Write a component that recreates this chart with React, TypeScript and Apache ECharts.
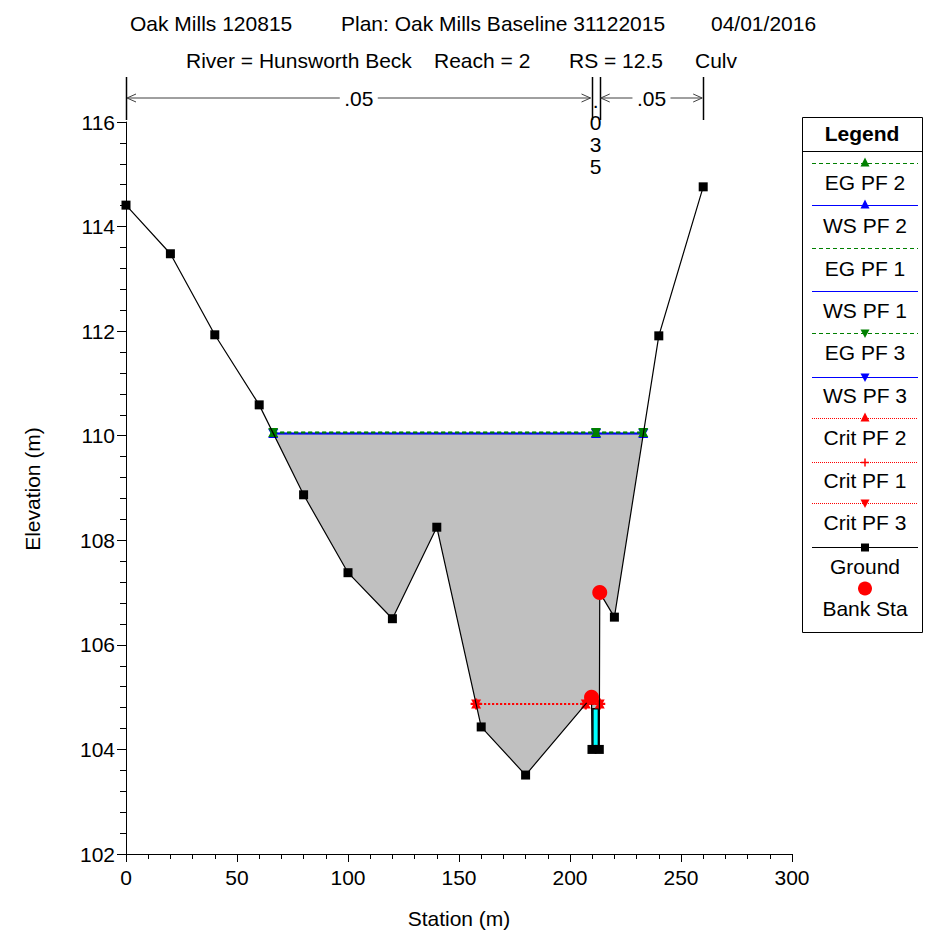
import React, { useEffect, useRef } from "react";
import * as echarts from "echarts";

// ---------- data ----------
const GROUND_STATION = [0, 20, 40, 60, 80, 100, 120, 140, 160, 180, 209.7, 209.9, 213.2, 213.4, 220, 240, 260];
const GROUND_ELEV = [114.41, 113.48, 111.93, 110.59, 108.87, 107.38, 106.5, 108.25, 104.43, 103.51, 105.0, 104.0, 104.0, 107.0, 106.53, 111.91, 114.76];

const WS_STATION = [66.3, 211.7, 233.0];
const WS_PF1 = [110.04, 110.04, 110.04];
const WS_PF2 = [110.04, 110.04, 110.04];
const WS_PF3 = [110.04, 110.04, 110.04];
const EG_PF1 = [110.06, 110.06, 110.06];
const EG_PF2 = [110.06, 110.06, 110.06];
const EG_PF3 = [110.06, 110.06, 110.06];

const CRIT_STATION = [157.7, 207.1, 213.4];
const CRIT_PF1 = [104.87, 104.87, 104.87];
const CRIT_PF2 = [104.87, 104.87, 104.87];
const CRIT_PF3 = [104.87, 104.87, 104.87];

const BANK_STATION = [209.7, 213.4];
const BANK_ELEV = [105.0, 107.0];

const CULVERT_STATION = [210.3, 212.8];
const CULVERT_ELEV = [104.0, 104.78];

const N_STATIONS = [0, 209.7, 213.4, 260];
const N_VALUES = [".05", ".035", ".05"];

const X_MIN = 0, X_MAX = 300, X_STEP = 50;
const Y_MIN = 102, Y_MAX = 116, Y_STEP = 2;

const TITLE_1 = ["Oak Mills 120815", "Plan: Oak Mills Baseline 31122015", "04/01/2016"];
const TITLE_2 = ["River = Hunsworth Beck", "Reach = 2", "RS = 12.5", "Culv"];

const FONT = '"Liberation Sans", Arial, Helvetica, sans-serif';
const GREEN = "#008000";
const BLUE = "#0000ff";
const RED = "#ff0000";

const TRI_DOWN = "path://M0,0L10,0L5,10Z";
const PLUS = "path://M4,0H6V4H10V6H6V10H4V6H0V4H4Z";

const zip = (xs: number[], ys: number[]) => xs.map((x, i) => [x, ys[i]]);

export default function App() {
  const ref = useRef<HTMLDivElement>(null);
  useEffect(() => {
    if (!ref.current) return;
    const chart = echarts.init(ref.current, undefined, { renderer: "svg" });

    const wsL = WS_STATION[0];
    const wsR = WS_STATION[WS_STATION.length - 1];
    const fillPts: number[][] = [[wsL, WS_PF1[0]]];
    GROUND_STATION.forEach((s, i) => {
      if (s > wsL && s < wsR) fillPts.push([s, GROUND_ELEV[i]]);
    });
    fillPts.push([wsR, WS_PF1[WS_PF1.length - 1]]);

    const culvertPts = [
      [CULVERT_STATION[0], CULVERT_ELEV[0]],
      [CULVERT_STATION[1], CULVERT_ELEV[0]],
      [CULVERT_STATION[1], CULVERT_ELEV[1]],
      [CULVERT_STATION[0], CULVERT_ELEV[1]],
    ];

    const polySeries = (pts: number[][], color: string, z: number, stroke = "none", lw = 0) => ({
      type: "custom",
      z,
      silent: true,
      clip: true,
      data: [[pts[0][0], pts[0][1]]],
      renderItem: (_p: any, api: any) => ({
        type: "polygon",
        shape: { points: pts.map((p) => api.coord(p)) },
        style: { fill: color, stroke, lineWidth: lw },
      }),
    });

    const lineSeries = (name: string, xs: number[], ys: number[], color: string, type: any, symbol: string | null, z: number, width = 1, size: any = [10, 9]) => ({
      name,
      type: "line",
      z,
      data: zip(xs, ys),
      showSymbol: !!symbol,
      symbol: symbol || "none",
      symbolSize: size,
      itemStyle: { color, opacity: 1 },
      lineStyle: { color, width, type },
      silent: true,
    });

    const axisCommon = {
      axisLine: { show: true, lineStyle: { color: "#000", width: 1 } },
      splitLine: { show: false },
      minorSplitLine: { show: false },
      axisLabel: { color: "#000", fontSize: 21, fontFamily: FONT },
    };

    chart.setOption({
      animation: false,
      backgroundColor: "#ffffff",
      grid: { left: 126, right: 145, top: 122, bottom: 82 },
      xAxis: {
        type: "value",
        min: X_MIN,
        max: X_MAX,
        interval: X_STEP,
        ...axisCommon,
        axisTick: { show: true, length: 8, lineStyle: { color: "#000" } },
        minorTick: { show: true, splitNumber: 5, length: 5, lineStyle: { color: "#000" } },
        axisLabel: { ...axisCommon.axisLabel, margin: 13 },
      },
      yAxis: {
        type: "value",
        min: Y_MIN,
        max: Y_MAX,
        interval: Y_STEP,
        ...axisCommon,
        axisTick: { show: true, length: 9, lineStyle: { color: "#000" } },
        minorTick: { show: true, splitNumber: 5, length: 6, lineStyle: { color: "#000" } },
        axisLabel: { ...axisCommon.axisLabel, margin: 11 },
      },
      series: [
        polySeries(fillPts, "#c0c0c0", 1),
        polySeries(culvertPts, "#00ffff", 2, "#000", 1.5),
        lineSeries("WS PF 1", WS_STATION, WS_PF1, BLUE, "solid", null, 4, 1.5),
        lineSeries("WS PF 2", WS_STATION, WS_PF2, BLUE, "solid", "triangle", 4, 1.5),
        lineSeries("WS PF 3", WS_STATION, WS_PF3, BLUE, "solid", TRI_DOWN, 4, 1.5),
        lineSeries("EG PF 1", WS_STATION, EG_PF1, GREEN, [4, 3], null, 5, 1.5),
        lineSeries("EG PF 2", WS_STATION, EG_PF2, GREEN, [4, 3], "triangle", 5, 1.5),
        lineSeries("EG PF 3", WS_STATION, EG_PF3, GREEN, [4, 3], TRI_DOWN, 5, 1.5),
        lineSeries("Crit PF 2", CRIT_STATION, CRIT_PF2, RED, [2, 2], "triangle", 6, 1.5),
        lineSeries("Crit PF 1", CRIT_STATION, CRIT_PF1, RED, [2, 2], PLUS, 6, 1.5, [11, 11]),
        lineSeries("Crit PF 3", CRIT_STATION, CRIT_PF3, RED, [2, 2], TRI_DOWN, 6, 1.5),
        {
          name: "Ground",
          type: "line",
          z: 7,
          data: zip(GROUND_STATION, GROUND_ELEV),
          symbol: "rect",
          symbolSize: 9,
          itemStyle: { color: "#000", opacity: 1 },
          lineStyle: { color: "#000", width: 1.2 },
          silent: true,
        },
        {
          name: "Bank Sta",
          type: "scatter",
          z: 9,
          data: zip(BANK_STATION, BANK_ELEV),
          symbol: "circle",
          symbolSize: 15,
          itemStyle: { color: RED, opacity: 1, borderWidth: 0 },
          silent: true,
        },
      ],
    });

    const px = (s: number) => chart.convertToPixel({ gridIndex: 0 }, [s, Y_MIN])[0] as number;
    const graphics: any[] = [];
    const txt = (text: string, x: number, y: number, extra: any = {}) => ({
      type: "text",
      x,
      y,
      silent: true,
      style: { text, fill: "#000", font: `21px ${FONT}`, textAlign: "left", textVerticalAlign: "middle", verticalAlign: "middle", ...extra },
    });

    // titles
    const t1x = [130, 341, 711];
    TITLE_1.forEach((t, i) => graphics.push(txt(t, t1x[i], 23)));
    const t2x = [186, 434, 569, 695];
    TITLE_2.forEach((t, i) => graphics.push(txt(t, t2x[i], 60)));

    // axis names
    graphics.push(txt("Station (m)", 459, 918, { textAlign: "center" }));
    graphics.push({ ...txt("Elevation (m)", 0, 0, { textAlign: "center" }), x: 32, y: 489, rotation: Math.PI / 2 });

    // Manning's n annotation
    const arrowY = 98;
    const ARROW = "#404040";
    N_STATIONS.forEach((s) => {
      const x = Math.round(px(s)) + 0.5;
      graphics.push({ type: "line", silent: true, shape: { x1: x, y1: 77, x2: x, y2: 120 }, style: { stroke: "#000", lineWidth: 1.5 } });
    });
    N_VALUES.forEach((v, i) => {
      const x0 = px(N_STATIONS[i]);
      const x1 = px(N_STATIONS[i + 1]);
      const cx = (x0 + x1) / 2;
      if (x1 - x0 > 50) {
        const half = 19;
        graphics.push({ type: "line", silent: true, shape: { x1: x0 + 1, y1: arrowY, x2: cx - half, y2: arrowY }, style: { stroke: ARROW, lineWidth: 1 } });
        graphics.push({ type: "line", silent: true, shape: { x1: cx + half, y1: arrowY, x2: x1 - 1, y2: arrowY }, style: { stroke: ARROW, lineWidth: 1 } });
        graphics.push({ type: "polyline", silent: true, shape: { points: [[x0 + 10, arrowY - 4], [x0 + 1, arrowY], [x0 + 10, arrowY + 4]] }, style: { stroke: ARROW, lineWidth: 1, fill: "none" } });
        graphics.push({ type: "polyline", silent: true, shape: { points: [[x1 - 10, arrowY - 4], [x1 - 1, arrowY], [x1 - 10, arrowY + 4]] }, style: { stroke: ARROW, lineWidth: 1, fill: "none" } });
        graphics.push(txt(v, cx, arrowY, { textAlign: "center" }));
      } else {
        v.split("").forEach((ch, k) => {
          graphics.push(txt(ch, cx, 100 + k * 22, { textAlign: "center" }));
        });
      }
    });

    // legend
    const LX0 = 802, LX1 = 922, LY0 = 117, LY1 = 632;
    const lcx = 865;
    graphics.push({ type: "rect", silent: true, shape: { x: LX0 + 0.5, y: LY0 + 0.5, width: LX1 - LX0, height: LY1 - LY0 }, style: { fill: "#fff", stroke: "#000", lineWidth: 1 } });
    graphics.push({ type: "line", silent: true, shape: { x1: LX0, y1: 151.5, x2: LX1, y2: 151.5 }, style: { stroke: "#000", lineWidth: 1 } });
    graphics.push(txt("Legend", 862, 133, { textAlign: "center", font: `bold 21px ${FONT}` }));
    const items = [
      { name: "EG PF 2", color: GREEN, dash: [4, 3], marker: "up" },
      { name: "WS PF 2", color: BLUE, dash: null, marker: "up" },
      { name: "EG PF 1", color: GREEN, dash: [4, 3], marker: "" },
      { name: "WS PF 1", color: BLUE, dash: null, marker: "" },
      { name: "EG PF 3", color: GREEN, dash: [4, 3], marker: "down" },
      { name: "WS PF 3", color: BLUE, dash: null, marker: "down" },
      { name: "Crit PF 2", color: RED, dash: [1, 1], marker: "up" },
      { name: "Crit PF 1", color: RED, dash: [1, 1], marker: "plus" },
      { name: "Crit PF 3", color: RED, dash: [1, 1], marker: "down" },
      { name: "Ground", color: "#000", dash: null, marker: "square" },
      { name: "Bank Sta", color: RED, dash: "none", marker: "circle" },
    ];
    const lineYs = [163, 205, 248, 291, 333, 377, 418, 462, 503, 547, 588];
    const labYs = [182, 225, 268, 310, 352, 395, 437, 480, 522, 566, 608];
    items.forEach((it, i) => {
      const y = lineYs[i] + 0.5;
      if (it.dash !== "none") {
        graphics.push({ type: "line", silent: true, shape: { x1: 812, y1: y, x2: 918, y2: y }, style: { stroke: it.color, lineWidth: 1, lineDash: it.dash || undefined } });
      }
      const c = it.color;
      if (it.marker === "up") graphics.push({ type: "polygon", silent: true, shape: { points: [[lcx - 4.5, y + 3], [lcx + 4.5, y + 3], [lcx, y - 6]] }, style: { fill: c } });
      if (it.marker === "down") graphics.push({ type: "polygon", silent: true, shape: { points: [[lcx - 4.5, y - 4], [lcx + 4.5, y - 4], [lcx, y + 4.5]] }, style: { fill: c } });
      if (it.marker === "plus") {
        graphics.push({ type: "rect", silent: true, shape: { x: lcx - 4, y: y - 0.75, width: 8, height: 1.5 }, style: { fill: c } });
        graphics.push({ type: "rect", silent: true, shape: { x: lcx - 0.75, y: y - 4, width: 1.5, height: 8 }, style: { fill: c } });
      }
      if (it.marker === "square") graphics.push({ type: "rect", silent: true, shape: { x: lcx - 4, y: y - 4, width: 8, height: 8 }, style: { fill: c } });
      if (it.marker === "circle") graphics.push({ type: "circle", silent: true, shape: { cx: lcx, cy: y, r: 7 }, style: { fill: c } });
      graphics.push(txt(it.name, lcx, labYs[i], { textAlign: "center" }));
    });

    chart.setOption({ graphic: graphics });

    return () => chart.dispose();
  }, []);

  return <div ref={ref} style={{ position: "fixed", left: 0, top: 0, width: 937, height: 936, background: "#fff" }} />;
}
